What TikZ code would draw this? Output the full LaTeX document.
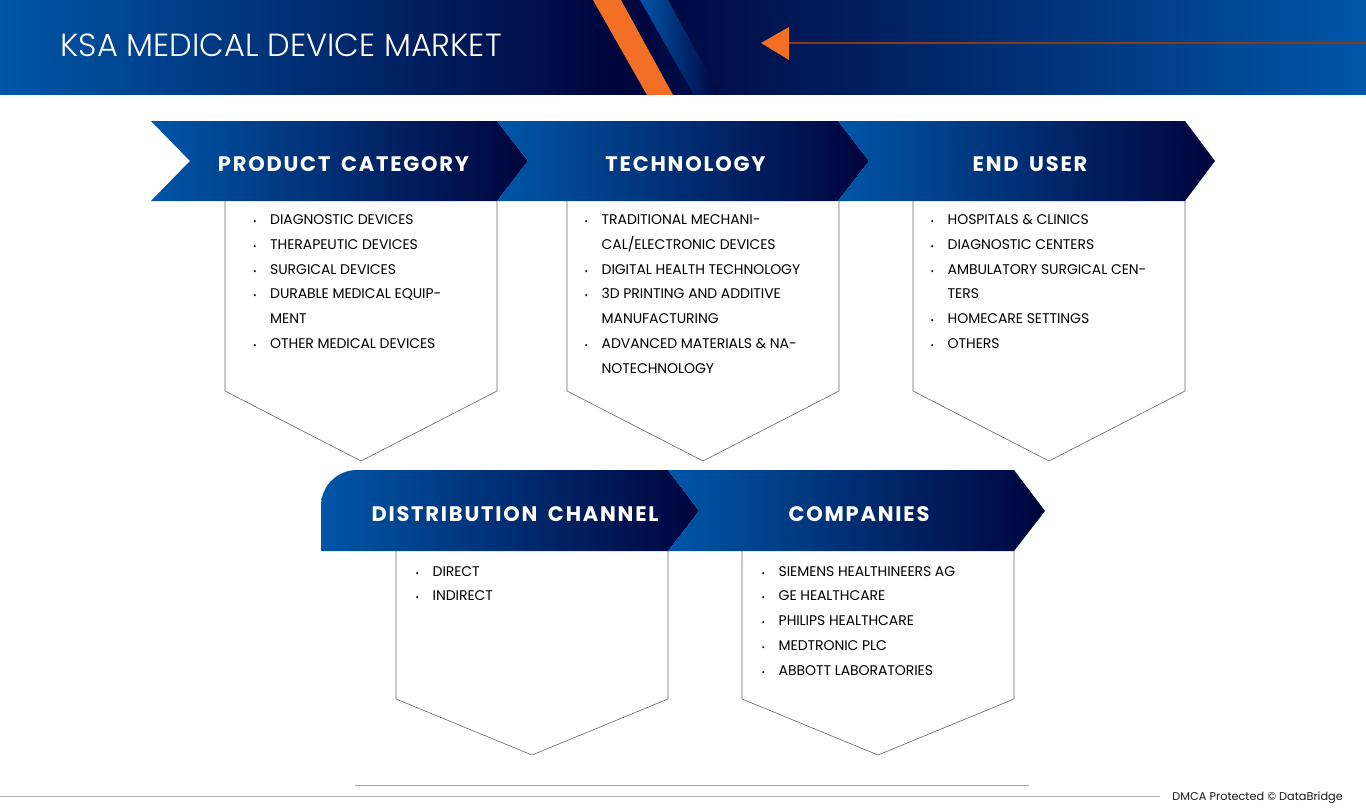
\documentclass[tikz,border=0pt]{standalone}
\usepackage{fontspec}
\setmainfont{Poppins}
\newfontfamily\titlefont{Poppins Light}
\newfontfamily\headfont[LetterSpace=8.5,WordSpace=1.7]{Poppins Bold}
\newfontfamily\itemfont[LetterSpace=-0.5]{Poppins}
\usetikzlibrary{positioning}

\definecolor{barblue}{HTML}{0056A8}
\definecolor{barnavy}{HTML}{00043C}
\definecolor{accent}{HTML}{F36F26}
\newcommand{\bulletmark}{\makebox[17pt][l]{\fontsize{8.5}{8.5}\selectfont\textbullet}}
\newcommand{\bulletgap}{\hspace*{17pt}}

\begin{document}
\begin{tikzpicture}[x=1pt,y=-1pt,
    chevron/.style={left color=barblue,right color=barnavy,draw=none},
    panel/.style={draw=black!60,line width=0.6pt,fill=white},
    headtext/.style={text=white,inner sep=0pt,font=\headfont\fontsize{21}{21}\selectfont},
    itemtext/.style={anchor=north west,align=left,inner sep=0pt,text=black,
        font=\itemfont\fontsize{14}{24.75}\selectfont}]

    \useasboundingbox (0,0) rectangle (1366,808);

    % header band
    \shade[left color=barblue,right color=barnavy] (0,0) rectangle (620,95);
    \shade[left color=barnavy,right color=barblue] (620,0) rectangle (1366,95);
    \fill[accent] (593,0) -- (621,0) -- (673,95) -- (647,95) -- cycle;
    \shade[left color=barblue,right color=barnavy] (640,0) -- (668,0) -- (720,95) -- (694,95) -- cycle;
    \node[anchor=west,inner sep=0pt,text=white,font=\titlefont\fontsize{32}{32}\selectfont] (title) at (60.5,45) {KSA MEDICAL DEVICE MARKET};

    % arrow in the header
    \coordinate (arrowbase) at (789,43);
    \coordinate (arrowend) at (1366,43);
    \draw[draw=accent!55!black,line width=1.4pt] (arrowbase) -- (arrowend);
    \fill[accent] (761,43) -- (789,27) -- (789,60) -- cycle;

    % panels, first row
    \draw[panel] (225,201) -- (225,391) -- (361,461) -- (497,391) -- (497,201);
    \draw[panel] (567,201) -- (567,391) -- (703,461) -- (839,391) -- (839,201);
    \draw[panel] (913,201) -- (913,391) -- (1049,461) -- (1185,391) -- (1185,201);

    % panels, second row
    \draw[panel] (396,551) -- (396,699) -- (532,755) -- (668,699) -- (668,551);
    \draw[panel] (742,551) -- (742,699) -- (878,755) -- (1014,699) -- (1014,551);

    % chevrons, first row
    \shade[chevron] (151,121) -- (497,121) -- (528,161) -- (497,201) -- (151,201) -- (190,161) -- cycle;
    \shade[chevron] (497,121) -- (838,121) -- (869,161) -- (838,201) -- (497,201) -- (528,161) -- cycle;
    \shade[chevron] (838,121) -- (1185,121) -- (1215,161) -- (1185,201) -- (838,201) -- (869,161) -- cycle;

    % chevrons, second row
    \shade[chevron] (321,551) -- (321,506) arc[start angle=180,end angle=270,radius=36] -- (668,470) -- (699,511) -- (668,551) -- cycle;
    \shade[chevron] (668,470) -- (1014,470) -- (1045,511) -- (1014,551) -- (668,551) -- (699,511) -- cycle;

    % chevron labels
    \node[headtext] (product) at (343.5,164.5) {PRODUCT CATEGORY};
    \node[headtext] (technology) at (685.5,164.5) {TECHNOLOGY};
    \node[headtext] (enduser) at (1030,164.5) {END USER};
    \node[headtext] (distribution) at (515,514.5) {DISTRIBUTION CHANNEL};
    \node[headtext] (companies) at (859,514.5) {COMPANIES};

    % lists
    \node[itemtext] (productlist) at (253,214.5) {\bulletmark DIAGNOSTIC DEVICES\\
        \bulletmark THERAPEUTIC DEVICES\\
        \bulletmark SURGICAL DEVICES\\
        \bulletmark DURABLE MEDICAL EQUIP-\\
        \bulletgap MENT\\
        \bulletmark OTHER MEDICAL DEVICES};
    \node[itemtext] (techlist) at (584.5,214.5) {\bulletmark TRADITIONAL MECHANI-\\
        \bulletgap CAL/ELECTRONIC DEVICES\\
        \bulletmark DIGITAL HEALTH TECHNOLOGY\\
        \bulletmark 3D PRINTING AND ADDITIVE\\
        \bulletgap MANUFACTURING\\
        \bulletmark ADVANCED MATERIALS \& NA-\\
        \bulletgap NOTECHNOLOGY};
    \node[itemtext] (userlist) at (930.5,214.5) {\bulletmark HOSPITALS \& CLINICS\\
        \bulletmark DIAGNOSTIC CENTERS\\
        \bulletmark AMBULATORY SURGICAL CEN-\\
        \bulletgap TERS\\
        \bulletmark HOMECARE SETTINGS\\
        \bulletmark OTHERS};
    \node[itemtext] (channellist) at (415.5,566) {\bulletmark DIRECT\\
        \bulletmark INDIRECT};
    \node[itemtext] (companylist) at (761.5,566) {\bulletmark SIEMENS HEALTHINEERS AG\\
        \bulletmark GE HEALTHCARE\\
        \bulletmark PHILIPS HEALTHCARE\\
        \bulletmark MEDTRONIC PLC\\
        \bulletmark ABBOTT LABORATORIES};

    % footer
    \coordinate (ruleleft) at (355,785);
    \coordinate (ruleright) at (1029,785);
    \draw[draw=black!35,line width=0.6pt] (ruleleft) -- (ruleright);
    \node[anchor=east,inner sep=0pt,text=black!90,font=\fontsize{11.3}{12}\selectfont] (dmca) at (1343,797.5) {DMCA Protected © DataBridge};
    \coordinate (footleft) at (0,796);
    \coordinate (footright) at (1160,796);
    \draw[draw=black!30,line width=0.6pt] (footleft) -- (footright);

\end{tikzpicture}
\end{document}
